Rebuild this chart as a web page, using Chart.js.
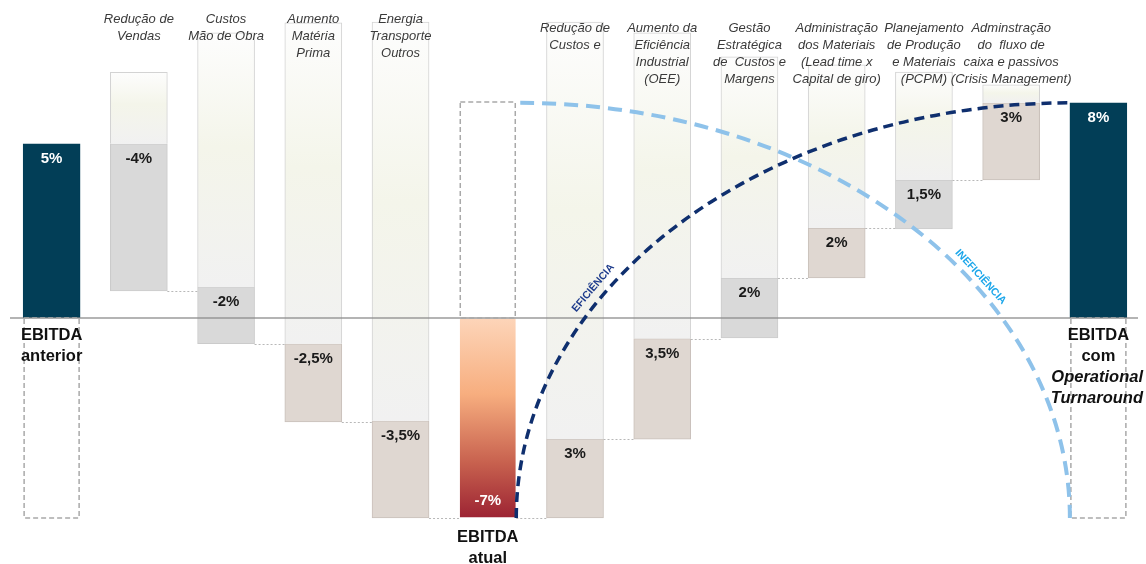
<!DOCTYPE html>
<html>
<head>
<meta charset="utf-8">
<script src="https://cdn.jsdelivr.net/npm/chart.js@4.4.1/dist/chart.umd.min.js"></script>
<style>
html,body{margin:0;padding:0;background:#fff}
#wrap{width:1146px;height:564px;position:relative}
</style>
</head>
<body>
<div id="wrap"><canvas id="ebitda"></canvas></div>
<script>
// ===== dados =====
const categories = ['EBITDA anterior','Redução de Vendas','Custos Mão de Obra','Aumento Matéria Prima','Energia Transporte Outros','EBITDA atual',
  'Redução de Custos e','Aumento da Eficiência Industrial (OEE)','Gestão Estratégica de Custos e Margens','Administração dos Materiais',
  'Planejamento de Produção e Materiais','Adminstração do fluxo de caixa e passivos','EBITDA com Operational Turnaround'];
const headerLines = [[],['Redução de','Vendas'],['Custos','Mão de Obra'],['Aumento','Matéria','Prima'],['Energia','Transporte','Outros'],[],
  ['Redução de','Custos e'],['Aumento da','Eficiência','Industrial','(OEE)'],['Gestão','Estratégica','de  Custos e','Margens'],
  ['Administração','dos Materiais','(Lead time x','Capital de giro)'],['Planejamento','de Produção','e Materiais','(PCPM)'],
  ['Adminstração','do  fluxo de','caixa e passivos','(Crisis Management)'],[]];
const bottomLines = [['EBITDA','anterior'],[],[],[],[],['EBITDA','atual'],[],[],[],[],[],[],['EBITDA','com','Operational','Turnaround']];
const italicWords = ['Operational','Turnaround'];
const valueLabels = ['5%','-4%','-2%','-2,5%','-3,5%','-7%','3%','3,5%','2%','2%','1,5%','3%','8%'];
const barKind = ['total','cinza','cinza','bege','bege','atual','bege','bege','cinza','bege','cinza','bege','total'];
// extremos das barras (unidade do desenho, 0 = linha base)
const barLow  = [0, 0.95, -0.9, -3.64, -7, -7, -7, -4.24, -0.7, 1.4, 3.12, 4.83, 0];
const barHigh = [6.1, 6.1, 1.08, -0.9, -3.6, 0, -4.24, -0.72, 1.4, 3.15, 4.83, 7.53, 7.53];
const ghostTop = [null, 8.6, 9.98, 10.33, 10.36, null, 10.36, 9.98, 9.14, 8.86, 8.61, 8.16, null];
const dashLow  = [-7, null, null, null, null, 0, null, null, null, null, null, null, -7];
const dashHigh = [0, null, null, null, null, 7.56, null, null, null, null, null, null, 0];

// ===== cores =====
const fillOf = {total:'#023e57', cinza:'#d9d9d9', bege:'#dfd7d1'};
const lineOf = {total:'#023e57', cinza:'#cbcbcb', bege:'#c9c0ba', atual:'rgba(0,0,0,0)'};
const FONT = '"Liberation Sans", Arial, sans-serif';

function vGrad(ctx, stops){
  const ch = ctx.chart, y = ch.scales.y;
  if(!y || !ctx.raw) return stops[stops.length-1][1];
  const top = y.getPixelForValue(Math.max(...ctx.raw)), bot = y.getPixelForValue(Math.min(...ctx.raw));
  if(!isFinite(top) || !isFinite(bot) || top===bot) return stops[stops.length-1][1];
  const g = ch.ctx.createLinearGradient(0, top, 0, bot);
  stops.forEach(s=>g.addColorStop(s[0], s[1]));
  return g;
}
const ghostStops = [[0,'#fdfdfd'],[0.45,'#f4f5ea'],[1,'#f1f1f1']];
const atualStops = [[0,'#fdd5b9'],[0.38,'#f7ae7f'],[0.72,'#c8624f'],[1,'#9c2333']];

// ===== plugin de desenho =====
const decor = {
  id:'decor',
  afterDatasetsDraw(chart){
    const ctx = chart.ctx, y = chart.scales.y, area = chart.chartArea;
    const bars = chart.getDatasetMeta(2).data, boxes = chart.getDatasetMeta(1).data;
    const half = el => el.width/2;
    ctx.save();

    // linha base
    const y0 = y.getPixelForValue(0);
    ctx.strokeStyle = 'rgba(140,140,140,0.65)'; ctx.lineWidth = 2;
    ctx.beginPath(); ctx.moveTo(area.left+2, y0); ctx.lineTo(area.right-4, y0); ctx.stroke();

    // conectores pontilhados
    ctx.strokeStyle = '#b8b8b8'; ctx.lineWidth = 1; ctx.setLineDash([2,2]);
    for(let i=1;i<=10;i++){
      const a = [barLow[i], barHigh[i]], b = [barLow[i+1], barHigh[i+1]];
      let best = a[0], d = Infinity;
      a.forEach(v=>b.forEach(w=>{ if(Math.abs(v-w)<d){ d=Math.abs(v-w); best=v; } }));
      const yy = Math.round(y.getPixelForValue(best))+0.5;
      ctx.beginPath(); ctx.moveTo(bars[i].x+half(bars[i]), yy); ctx.lineTo(bars[i+1].x-half(bars[i+1]), yy); ctx.stroke();
    }

    // caixas tracejadas
    ctx.strokeStyle = '#a9a9a9'; ctx.lineWidth = 1.5; ctx.setLineDash([5,3]);
    boxes.forEach((el,i)=>{
      if(dashLow[i]==null) return;
      const t = y.getPixelForValue(dashHigh[i]), b = y.getPixelForValue(dashLow[i]);
      ctx.strokeRect(el.x-half(el)+1, t, el.width-2, b-t);
    });

    // arcos
    const e5 = bars[5], e12 = bars[12];
    const x1 = e5.x+half(e5), x2 = e12.x-half(e12);
    const yTop = y.getPixelForValue(barHigh[12]), yBot = y.getPixelForValue(barLow[5]);
    const rx = x2-x1, ry = yBot-yTop;
    ctx.lineCap = 'butt';
    ctx.strokeStyle = '#8ec2ea'; ctx.lineWidth = 4; ctx.setLineDash([14,8]);
    ctx.beginPath(); ctx.ellipse(x1+4, yBot, rx-4, ry, 0, 1.5*Math.PI, 2*Math.PI); ctx.stroke();
    ctx.strokeStyle = '#0f2f6e'; ctx.lineWidth = 3.5; ctx.setLineDash([10,6]);
    ctx.beginPath(); ctx.ellipse(x2, yBot, rx, ry, 0, Math.PI, 1.5*Math.PI); ctx.stroke();
    ctx.setLineDash([]);

    function arcText(txt, cx, th, off, color){
      const c = Math.cos(th), s = Math.sin(th);
      let nx = c/rx, ny = s/ry; const nl = Math.hypot(nx,ny); nx/=nl; ny/=nl;
      const px = cx + rx*c + nx*off, py = yBot + ry*s + ny*off;
      ctx.save(); ctx.translate(px, py); ctx.rotate(Math.atan2(ry*c, -rx*s));
      ctx.fillStyle = color; ctx.font = 'bold 10.5px '+FONT; ctx.textAlign='center'; ctx.textBaseline='middle';
      ctx.fillText(txt, 0, 0); ctx.restore();
    }
    arcText('EFICIÊNCIA', x2, Math.PI+0.565, 12, '#1e3c8c');
    arcText('INEFICIÊNCIA', x1, -0.6, 10, '#1ba6ea');

    // rótulos de valor
    ctx.textAlign = 'center'; ctx.textBaseline = 'middle';
    ctx.font = 'bold 15px '+FONT;
    bars.forEach((el,i)=>{
      const k = barKind[i];
      ctx.fillStyle = (k==='total'||k==='atual') ? '#ffffff' : '#1a1a1a';
      const yy = k==='atual' ? y.getPixelForValue(barLow[i])-17 : y.getPixelForValue(barHigh[i])+15;
      ctx.fillText(valueLabels[i], el.x, yy);
    });

    // títulos das colunas
    ctx.font = 'italic 13px '+FONT; ctx.fillStyle = '#3a3a3a';
    bars.forEach((el,i)=>{
      const start = i<5 ? 19 : 28;
      headerLines[i].forEach((t,k)=>ctx.fillText(t, el.x, start+k*17));
    });

    // rótulos de EBITDA
    ctx.fillStyle = '#111';
    const W = chart.width;
    bars.forEach((el,i)=>{
      if(!bottomLines[i].length) return;
      const start = barKind[i]==='atual' ? y.getPixelForValue(barLow[i])+19 : y0+17;
      bottomLines[i].forEach((t,k)=>{
        ctx.font = (italicWords.includes(t)?'italic ':'')+'bold 16.5px '+FONT;
        const w = ctx.measureText(t).width;
        ctx.fillText(t, Math.min(el.x, W - w/2 - 3), start+k*21);
      });
    });
    ctx.restore();
  }
};

// ===== gráfico =====
new Chart(document.getElementById('ebitda'), {
  type:'bar',
  data:{
    labels:categories,
    datasets:[
      { label:'fundo', data:ghostTop.map((t,i)=>t==null?null:[barHigh[i], t]), grouped:false, barThickness:57,
        backgroundColor:c=>vGrad(c, ghostStops), borderColor:'#d3d3d3', borderWidth:{top:1,left:1,right:1,bottom:0}, borderSkipped:'bottom' },
      { label:'caixa', data:dashLow.map((v,i)=>v==null?null:[v, dashHigh[i]]), grouped:false, barThickness:57,
        backgroundColor:'rgba(0,0,0,0)', borderWidth:0 },
      { label:'EBITDA', data:barLow.map((v,i)=>[v, barHigh[i]]), grouped:false, barThickness:57,
        backgroundColor:c=>barKind[c.dataIndex]==='atual' ? vGrad(c, atualStops) : fillOf[barKind[c.dataIndex]],
        borderColor:c=>lineOf[barKind[c.dataIndex]], borderWidth:1, borderSkipped:false }
    ]
  },
  options:{
    responsive:true, maintainAspectRatio:false, animation:false, events:[],
    layout:{padding:{left:8, right:4, top:0, bottom:0}},
    plugins:{legend:{display:false}, tooltip:{enabled:false}},
    scales:{
      x:{display:false, offset:true, grid:{display:false}},
      y:{display:false, min:-8.61, max:11.13}
    }
  },
  plugins:[decor]
});
</script>
</body>
</html>
